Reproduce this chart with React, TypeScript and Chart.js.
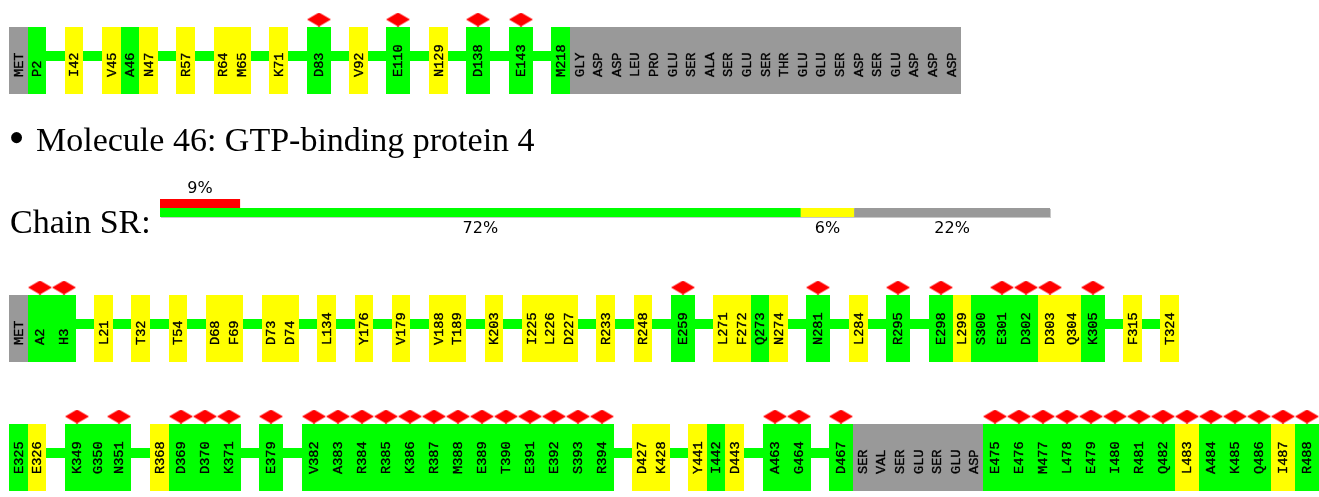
import React, { useEffect, useRef } from "react";
import { Chart, registerables } from "chart.js";

Chart.register(...registerables);

// ---------------- DATA ----------------
// Row 1: tail of the previous molecule's residue plot
const row1Labels = [
  "MET", "P2", "I42", "V45", "A46", "N47", "R57", "R64", "M65", "K71", "D83", "V92", "E110", "N129", "D138", "E143", "M218",
  "GLY", "ASP", "ASP", "LEU", "PRO", "GLU", "SER", "ALA", "SER", "GLU", "SER", "THR", "GLU", "GLU", "SER", "ASP", "SER", "GLU", "ASP", "ASP", "ASP",
];
const row1Quality = [
  "u", "g", "y", "y", "g", "y", "y", "y", "y", "y", "g", "y", "g", "y", "g", "g", "g",
  "u", "u", "u", "u", "u", "u", "u", "u", "u", "u", "u", "u", "u", "u", "u", "u", "u", "u", "u", "u", "u",
];
const row1Outliers = ["D83", "E110", "D138", "E143"];

// Molecule 46, chain SR: first line
const row2Labels = [
  "MET", "A2", "H3", "L21", "T32", "T54", "D68", "F69", "D73", "D74", "L134", "Y176", "V179", "V188", "T189", "K203",
  "I225", "L226", "D227", "R233", "R248", "E259", "L271", "F272", "Q273", "N274", "N281", "L284", "R295", "E298", "L299",
  "S300", "E301", "D302", "D303", "Q304", "K305", "F315", "T324",
];
const row2Quality = [
  "u", "g", "g", "y", "y", "y", "y", "y", "y", "y", "y", "y", "y", "y", "y", "y",
  "y", "y", "y", "y", "y", "g", "y", "y", "g", "y", "g", "y", "g", "g", "y",
  "g", "g", "g", "y", "y", "g", "y", "y",
];
const row2Outliers = ["A2", "H3", "E259", "N281", "R295", "E298", "E301", "D302", "D303", "K305"];

// Molecule 46, chain SR: second line
const row3Labels = [
  "E325", "E326", "K349", "G350", "N351", "R368", "D369", "D370", "K371", "E379",
  "V382", "A383", "R384", "R385", "K386", "R387", "M388", "E389", "T390", "E391", "E392", "S393", "R394",
  "D427", "K428", "Y441", "I442", "D443", "A463", "G464", "D467",
  "SER", "VAL", "SER", "GLU", "SER", "GLU", "ASP",
  "E475", "E476", "M477", "L478", "E479", "I480", "R481", "Q482", "L483", "A484", "K485", "Q486", "I487", "R488",
];
const row3Quality = [
  "g", "y", "g", "g", "g", "y", "g", "g", "g", "g",
  "g", "g", "g", "g", "g", "g", "g", "g", "g", "g", "g", "g", "g",
  "y", "y", "y", "g", "y", "g", "g", "g",
  "u", "u", "u", "u", "u", "u", "u",
  "g", "g", "g", "g", "g", "g", "g", "g", "y", "g", "g", "g", "y", "g",
];
const row3Outliers = [
  "K349", "N351", "D369", "D370", "K371", "E379",
  "V382", "A383", "R384", "R385", "K386", "R387", "M388", "E389", "T390", "E391", "E392", "S393", "R394",
  "A463", "G464", "D467",
  "E475", "E476", "M477", "L478", "E479", "I480", "R481", "Q482", "L483", "A484", "K485", "Q486", "I487", "R488",
];

const moleculeTitle = "Molecule 46: GTP-binding protein 4";
const chainTitle = "Chain SR:";
const chainQualityKeys = ["g", "y", "u"];
const chainQualityPct = [72, 6, 22];
const chainOutlierPct = 9;

// ---------------- STYLE / LAYOUT ----------------
const COLORS: Record<string, string> = { g: "#00ff00", y: "#ffff00", u: "#999999" };
const OUTLIER_COLOR = "#ff0000";
const W = 1319;
const H = 497;
const ROW_X0 = 9;
const SLOT = 18.6;
const WIDE = 24;
const BOX_H = 67;
const LINE_H = 10;
const ROW_TOPS = [27, 295, 424];
const CHAIN_X0 = 160;
const CHAIN_W = 890;
const CHAIN_BAR_H = 9;
const CHAIN_RED_Y = 203.5;
const CHAIN_Q_Y = 212.5;

type Box = { label: string; q: string; start: number; end: number; out: boolean };

function layoutRow(labels: string[], quality: string[], outliers: string[]) {
  let x = ROW_X0;
  let prevNum: number | null = null;
  const boxes: Box[] = [];
  const gaps: [number, number][] = [];
  labels.forEach((lab, i) => {
    const m = lab.match(/^[A-Z](\d+)$/);
    const num = m ? parseInt(m[1], 10) : null;
    if (num !== null && prevNum !== null && num !== prevNum + 1) {
      gaps.push([Math.round(x), Math.round(x + SLOT)]);
      x += SLOT;
    }
    const out = outliers.includes(lab);
    const w = out ? WIDE : SLOT;
    boxes.push({ label: lab, q: quality[i], start: Math.round(x), end: Math.round(x + w), out });
    x += w;
    prevNum = num;
  });
  return { boxes, gaps };
}

function makeDiamond(): HTMLCanvasElement {
  const c = document.createElement("canvas");
  c.width = 24;
  c.height = 14;
  const g = c.getContext("2d")!;
  g.fillStyle = OUTLIER_COLOR;
  g.beginPath();
  g.moveTo(12, 0);
  g.lineTo(24, 7);
  g.lineTo(12, 14);
  g.lineTo(0, 7);
  g.closePath();
  g.fill();
  return c;
}

export default function App() {
  const canvasRef = useRef<HTMLCanvasElement | null>(null);

  useEffect(() => {
    if (!canvasRef.current) return;
    const rowsIn = [
      { labels: row1Labels, quality: row1Quality, outliers: row1Outliers },
      { labels: row2Labels, quality: row2Quality, outliers: row2Outliers },
      { labels: row3Labels, quality: row3Quality, outliers: row3Outliers },
    ];
    const rows = rowsIn.map((r, i) => ({ ...layoutRow(r.labels, r.quality, r.outliers), top: ROW_TOPS[i] }));

    const boxData: any[] = [];
    const boxColors: string[] = [];
    const lineData: any[] = [];
    const diamondData: any[] = [];
    const labelItems: { label: string; cx: number; y: number }[] = [];
    rows.forEach(({ boxes, gaps, top }) => {
      boxes.forEach((b) => {
        boxData.push({ x: [b.start, b.end], y: top + BOX_H / 2 });
        boxColors.push(COLORS[b.q]);
        if (b.out) diamondData.push({ x: (b.start + b.end) / 2, y: top - 7.5 });
        labelItems.push({ label: b.label, cx: (b.start + b.end) / 2, y: top + 50 });
      });
      gaps.forEach((g) => lineData.push({ x: [g[0] - 1, g[1] + 1], y: top + 29 }));
    });

    // chain summary bar
    const qualData: any[] = [];
    const qualColors: string[] = [];
    const qualLabels: { text: string; cx: number }[] = [];
    let acc = CHAIN_X0;
    chainQualityPct.forEach((p, i) => {
      const w = (p / 100) * CHAIN_W;
      qualData.push({ x: [acc, acc + w], y: CHAIN_Q_Y });
      qualColors.push(COLORS[chainQualityKeys[i]]);
      qualLabels.push({ text: `${p}%`, cx: acc + w / 2 });
      acc += w;
    });
    const redEnd = CHAIN_X0 + (chainOutlierPct / 100) * CHAIN_W;

    const diamond = makeDiamond();

    const textPlugin = {
      id: "texts",
      afterDatasetsDraw(chart: any) {
        const { ctx } = chart;
        const xs = chart.scales.x;
        const ys = chart.scales.y;
        ctx.save();
        ctx.fillStyle = "#000";
        // residue labels
        const fs = 13.6;
        ctx.font = `${fs}px 'Liberation Mono', monospace`;
        ctx.textAlign = "left";
        ctx.textBaseline = "alphabetic";
        const capH = fs * 0.66;
        labelItems.forEach((it) => {
          ctx.save();
          ctx.translate(xs.getPixelForValue(it.cx), ys.getPixelForValue(it.y));
          ctx.rotate(-Math.PI / 2);
          ctx.fillText(it.label, 0, capH / 2);
          ctx.lineWidth = 0.35;
          ctx.strokeStyle = "#000";
          ctx.strokeText(it.label, 0, capH / 2);
          ctx.restore();
        });
        // headings
        ctx.font = "46px 'Liberation Serif', serif";
        ctx.textAlign = "center";
        ctx.textBaseline = "middle";
        ctx.fillText("\u2022", xs.getPixelForValue(16.5), ys.getPixelForValue(141));
        ctx.textAlign = "left";
        ctx.textBaseline = "alphabetic";
        ctx.font = "34px 'Liberation Serif', serif";
        ctx.fillText(moleculeTitle, xs.getPixelForValue(36), ys.getPixelForValue(150.5));
        ctx.fillText(chainTitle, xs.getPixelForValue(10), ys.getPixelForValue(232.5));
        // percentages
        ctx.font = "16px 'DejaVu Sans', sans-serif";
        ctx.textAlign = "center";
        ctx.textBaseline = "middle";
        ctx.fillText(`${chainOutlierPct}%`, xs.getPixelForValue((CHAIN_X0 + redEnd) / 2), ys.getPixelForValue(188.5));
        qualLabels.forEach((q) => ctx.fillText(q.text, xs.getPixelForValue(q.cx), ys.getPixelForValue(229)));
        ctx.restore();
      },
    };

    const barCommon = {
      type: "bar" as const,
      indexAxis: "y" as const,
      stack: "one",
      borderWidth: 0,
      inflateAmount: 0,
      borderSkipped: false,
    };

    const chart = new Chart(canvasRef.current, {
      type: "bar",
      data: {
        datasets: [
          {
            type: "scatter",
            label: "outliers",
            data: diamondData,
            pointStyle: diamond as any,
            pointRadius: 12,
            order: 0,
          } as any,
          { ...barCommon, label: "residues", data: boxData, backgroundColor: boxColors, barThickness: BOX_H, order: 1 },
          { ...barCommon, label: "links", data: lineData, backgroundColor: COLORS.g, barThickness: LINE_H, order: 2 },
          { ...barCommon, label: "chain outliers", data: [{ x: [CHAIN_X0, redEnd], y: CHAIN_RED_Y }], backgroundColor: OUTLIER_COLOR, barThickness: CHAIN_BAR_H, order: 1 },
          { ...barCommon, label: "chain quality", data: qualData, backgroundColor: qualColors, barThickness: CHAIN_BAR_H, order: 1 },
          { ...barCommon, label: "chain shadow", data: [{ x: [CHAIN_X0 + 1, CHAIN_X0 + CHAIN_W + 1], y: CHAIN_Q_Y + 1 }], backgroundColor: "#c8c8c8", barThickness: CHAIN_BAR_H, order: 3 },
        ] as any,
      },
      options: {
        animation: false,
        responsive: true,
        maintainAspectRatio: false,
        devicePixelRatio: 1,
        indexAxis: "y",
        events: [],
        layout: { padding: 0, autoPadding: false },
        plugins: { legend: { display: false }, tooltip: { enabled: false } },
        scales: {
          x: { type: "linear", min: 0, max: W, display: false, offset: false, stacked: false },
          y: { type: "linear", min: 0, max: H, reverse: true, display: false, offset: false },
        },
      } as any,
      plugins: [textPlugin],
    });
    return () => chart.destroy();
  }, []);

  return (
    <div style={{ position: "fixed", left: 0, top: 0, width: W, height: H, background: "#fff" }}>
      <canvas ref={canvasRef} />
    </div>
  );
}
